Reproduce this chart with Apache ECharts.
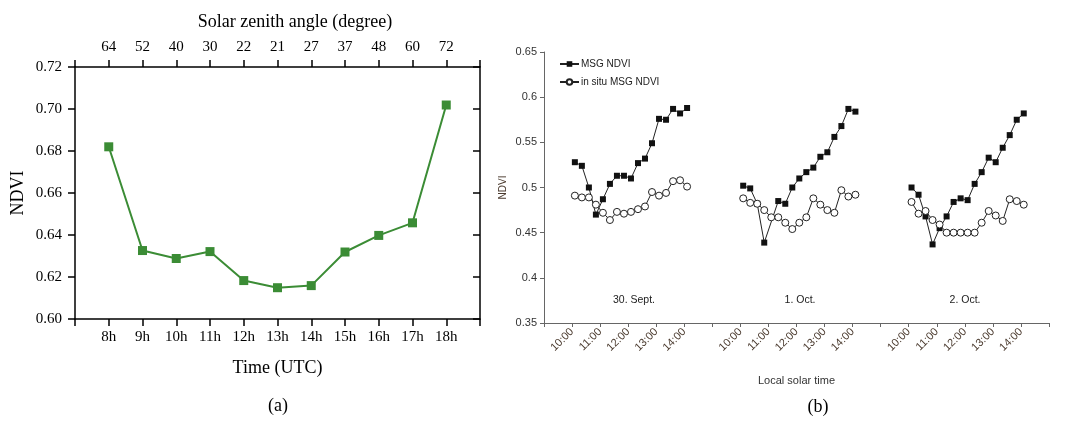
<!DOCTYPE html>
<html>
<head>
<meta charset="utf-8">
<script src="https://cdn.jsdelivr.net/npm/echarts@6/dist/echarts.min.js"></script>
<style>
html,body{margin:0;padding:0;background:#fff;}
#chart{width:1068px;height:425px;}
</style>
</head>
<body>
<div id="chart"></div>
<script>
// ---------- Panel (a) data ----------
const hoursA = [8, 9, 10, 11, 12, 13, 14, 15, 16, 17, 18];
const timeLabelsA = ['8h', '9h', '10h', '11h', '12h', '13h', '14h', '15h', '16h', '17h', '18h'];
const zenithLabels = ['64', '52', '40', '30', '22', '21', '27', '37', '48', '60', '72'];
const ndviA = [0.682, 0.6326, 0.6288, 0.6321, 0.6183, 0.6149, 0.6159, 0.6319, 0.6398, 0.6458, 0.7019];

// ---------- Panel (b) data ----------
const dayLabels = ['30. Sept.', '1. Oct.', '2. Oct.'];
const hourTickLabels = ['10:00', '11:00', '12:00', '13:00', '14:00'];
const timesB = [10.1, 10.35, 10.6, 10.85, 11.1, 11.35, 11.6, 11.85, 12.1, 12.35, 12.6, 12.85, 13.1, 13.35, 13.6, 13.85, 14.1];
const msgDay1 = [0.528, 0.524, 0.500, 0.470, 0.487, 0.504, 0.513, 0.513, 0.510, 0.527, 0.532, 0.549, 0.576, 0.575, 0.587, 0.582, 0.588];
const msgDay2 = [0.502, 0.499, 0.482, 0.439, null, 0.485, 0.482, 0.500, 0.510, 0.517, 0.522, 0.534, 0.539, 0.556, 0.568, 0.587, 0.584];
const msgDay3 = [0.500, 0.492, 0.468, 0.437, 0.455, 0.468, 0.484, 0.488, 0.486, 0.504, 0.517, 0.533, 0.528, 0.544, 0.558, 0.575, 0.582];
const insituDay1 = [0.491, 0.489, 0.489, 0.481, 0.472, 0.464, 0.473, 0.471, 0.473, 0.476, 0.479, 0.495, 0.491, 0.494, 0.507, 0.508, 0.501];
const insituDay2 = [0.488, 0.483, 0.482, 0.475, 0.467, 0.467, 0.461, 0.454, 0.461, 0.467, 0.488, 0.481, 0.475, 0.472, 0.497, 0.490, 0.492];
const insituDay3 = [0.484, 0.471, 0.474, 0.464, 0.459, 0.450, 0.450, 0.450, 0.450, 0.450, 0.461, 0.474, 0.469, 0.463, 0.487, 0.485, 0.481];

const msgDays = [msgDay1, msgDay2, msgDay3];
const insituDays = [insituDay1, insituDay2, insituDay3];

const SERIF = '"Liberation Serif","Times New Roman",serif';
const SANS = '"Liberation Sans",Arial,sans-serif';
const GREEN = '#3b8c35';

function dayPoints(d, vals) {
  const out = [];
  timesB.forEach((t, i) => {
    if (vals[i] !== null) out.push([d * 6 + (t - 9), vals[i]]);
  });
  return out;
}

const series = [{
  type: 'line',
  xAxisIndex: 0, yAxisIndex: 0,
  data: hoursA.map((h, i) => [h, ndviA[i]]),
  symbol: 'rect', symbolSize: 9,
  lineStyle: {color: GREEN, width: 2},
  itemStyle: {color: GREEN},
  silent: true, animation: false
}];
for (let d = 0; d < 3; d++) {
  series.push({
    name: 'MSG NDVI', type: 'line', xAxisIndex: 2, yAxisIndex: 2,
    data: dayPoints(d, msgDays[d]),
    symbol: 'rect', symbolSize: 6,
    lineStyle: {color: '#222', width: 1},
    itemStyle: {color: '#111'},
    silent: true, animation: false, z: 3
  });
  series.push({
    name: 'in situ MSG NDVI', type: 'line', xAxisIndex: 2, yAxisIndex: 2,
    data: dayPoints(d, insituDays[d]),
    symbol: 'circle', symbolSize: 7,
    lineStyle: {color: '#222', width: 1},
    itemStyle: {color: '#fff', borderColor: '#222', borderWidth: 1},
    silent: true, animation: false, z: 4
  });
}

const axisBlack = {lineStyle: {color: '#000', width: 1.5}};

const option = {
  animation: false,
  backgroundColor: '#fff',
  grid: [
    {left: 75, right: 588, top: 67, bottom: 106},
    {left: 544, right: 19, top: 52, bottom: 102}
  ],
  legend: {
    data: ['MSG NDVI', 'in situ MSG NDVI'],
    orient: 'vertical', left: 554, top: 54,
    itemWidth: 19, itemHeight: 7, itemGap: 8,
    textStyle: {fontFamily: SANS, fontSize: 10, color: '#222', padding: [0, 0, 0, -3]},
    selectedMode: false
  },
  xAxis: [
    {
      type: 'value', gridIndex: 0, min: 7, max: 19, interval: 1,
      axisLine: axisBlack,
      axisTick: {show: true, length: 7, lineStyle: {color: '#000', width: 1.5}},
      splitLine: {show: false},
      axisLabel: {
        margin: 11, fontFamily: SERIF, fontSize: 15, color: '#000',
        formatter: v => { const i = hoursA.indexOf(v); return i >= 0 ? timeLabelsA[i] : ''; }
      },
      name: 'Time (UTC)', nameLocation: 'middle', nameGap: 40,
      nameTextStyle: {fontFamily: SERIF, fontSize: 18, color: '#000'}
    },
    {
      type: 'value', gridIndex: 0, position: 'top', min: 7, max: 19, interval: 1,
      axisLine: axisBlack,
      axisTick: {show: true, length: 7, lineStyle: {color: '#000', width: 1.5}},
      splitLine: {show: false},
      axisLabel: {
        margin: 12, fontFamily: SERIF, fontSize: 15, color: '#000',
        formatter: v => { const i = hoursA.indexOf(v); return i >= 0 ? zenithLabels[i] : ''; }
      }
    },
    {
      type: 'value', gridIndex: 1, min: 0, max: 18, interval: 1,
      axisLine: {lineStyle: {color: '#666', width: 1}},
      axisTick: {show: true, length: 4, lineStyle: {color: '#666'}},
      splitLine: {show: false},
      axisLabel: {
        rotate: 45, margin: 7, fontFamily: SANS, fontSize: 11, color: '#4a3a2e',
        formatter: v => { const h = Math.round(v) % 6; return (h >= 1 && h <= 5) ? hourTickLabels[h - 1] : ''; }
      },
      name: 'Local solar time', nameLocation: 'middle', nameGap: 52,
      nameTextStyle: {fontFamily: SANS, fontSize: 11, color: '#333'}
    }
  ],
  yAxis: [
    {
      type: 'value', gridIndex: 0, min: 0.6, max: 0.72, interval: 0.02,
      axisLine: {show: true, lineStyle: {color: '#000', width: 1.5}},
      axisTick: {show: true, length: 7, lineStyle: {color: '#000', width: 1.5}},
      splitLine: {show: false},
      axisLabel: {margin: 13, fontFamily: SERIF, fontSize: 15, color: '#000', formatter: v => v.toFixed(2)},
      name: 'NDVI', nameLocation: 'middle', nameGap: 48, nameRotate: 90,
      nameTextStyle: {fontFamily: SERIF, fontSize: 18, color: '#000'}
    },
    {
      type: 'value', gridIndex: 0, position: 'right', min: 0.6, max: 0.72, interval: 0.02,
      axisLine: {show: true, lineStyle: {color: '#000', width: 1.5}},
      axisTick: {show: true, inside: true, length: 7, lineStyle: {color: '#000', width: 1.5}},
      splitLine: {show: false},
      axisLabel: {show: false}
    },
    {
      type: 'value', gridIndex: 1, min: 0.35, max: 0.65, interval: 0.05,
      axisLine: {show: true, lineStyle: {color: '#666', width: 1}},
      axisTick: {show: true, length: 4, lineStyle: {color: '#666'}},
      splitLine: {show: false},
      axisLabel: {margin: 7, fontFamily: SANS, fontSize: 11, color: '#333'},
      name: 'NDVI', nameLocation: 'middle', nameGap: 36, nameRotate: 90,
      nameTextStyle: {fontFamily: SANS, fontSize: 10, color: '#4a3a2e'}
    }
  ],
  graphic: [
    {type: 'text', x: 295, y: 22, style: {text: 'Solar zenith angle (degree)', font: '18px ' + SERIF, fill: '#000', textAlign: 'center', textVerticalAlign: 'middle'}},
    {type: 'text', x: 278, y: 406, style: {text: '(a)', font: '18px ' + SERIF, fill: '#000', textAlign: 'center', textVerticalAlign: 'middle'}},
    {type: 'text', x: 818, y: 407, style: {text: '(b)', font: '18px ' + SERIF, fill: '#000', textAlign: 'center', textVerticalAlign: 'middle'}},
    {type: 'text', x: 634, y: 300, style: {text: dayLabels[0], font: '10.5px ' + SANS, fill: '#222', textAlign: 'center', textVerticalAlign: 'middle'}},
    {type: 'text', x: 800, y: 300, style: {text: dayLabels[1], font: '10.5px ' + SANS, fill: '#222', textAlign: 'center', textVerticalAlign: 'middle'}},
    {type: 'text', x: 965, y: 300, style: {text: dayLabels[2], font: '10.5px ' + SANS, fill: '#222', textAlign: 'center', textVerticalAlign: 'middle'}}
  ],
  series: series
};

const chart = echarts.init(document.getElementById('chart'), null, {renderer: 'canvas'});
chart.setOption(option);
</script>
</body>
</html>
